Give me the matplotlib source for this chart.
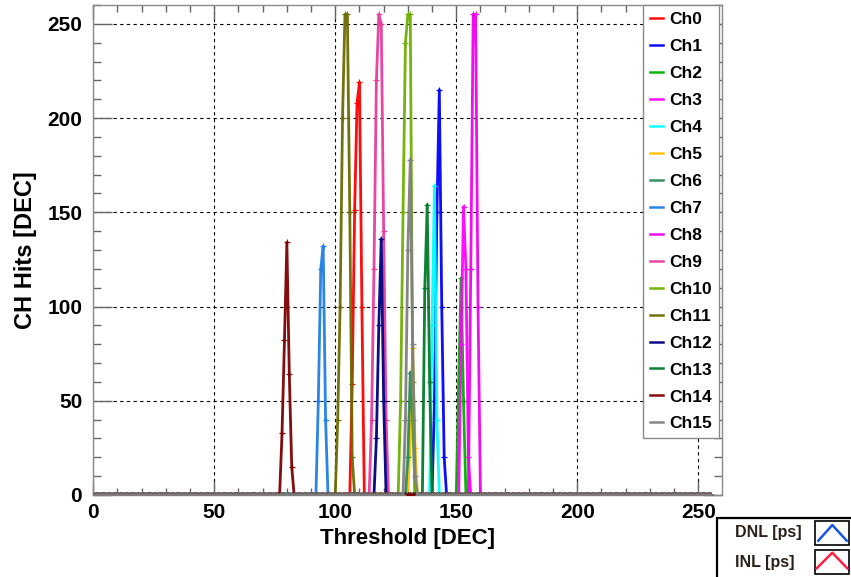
import matplotlib
matplotlib.use('Agg')
import matplotlib.pyplot as plt
import numpy as np
from matplotlib.lines import Line2D
from matplotlib.patches import Rectangle
from matplotlib.ticker import MultipleLocator

plt.rcParams['font.family'] = ['Liberation Sans', 'DejaVu Sans']
plt.rcParams['font.weight'] = 'bold'

# threshold scan: 0..255, hits per channel are zero outside the peak
thresholds = np.arange(256)

channel_names = ['Ch%d' % i for i in range(16)]

# first threshold of each peak and the hit counts from there on
peak_start = [106, 140, 150, 151, 139, 130, 129, 92,
              155, 114, 126, 100, 116, 136, 77, 128]
peak_hits = [
    [0, 59, 151, 208, 219, 100, 0],              # Ch0
    [0, 50, 150, 215, 100, 20, 0],               # Ch1
    [0, 60, 115, 50, 0],                         # Ch2
    [0, 80, 153, 120, 20, 0],                    # Ch3
    [0, 90, 164, 40, 0],                         # Ch4
    [0, 30, 78, 25, 0],                          # Ch5
    [0, 20, 65, 40, 0],                          # Ch6
    [0, 50, 120, 132, 40, 0],                    # Ch7
    [0, 120, 255, 255, 100, 0],                  # Ch8
    [0, 40, 120, 220, 255, 250, 140, 40, 0],     # Ch9
    [0, 50, 150, 240, 255, 255, 60, 0],          # Ch10
    [0, 40, 100, 200, 255, 255, 150, 20, 0],     # Ch11
    [0, 30, 90, 136, 50, 0],                     # Ch12
    [0, 110, 154, 60, 0],                        # Ch13
    [0, 33, 82, 134, 64, 15, 0],                 # Ch14
    [0, 40, 130, 178, 80, 10, 0],                # Ch15
]

colours = ['#ff0000', '#0000ff', '#00b000', '#ff00ff', '#00ffff', '#ffc000',
           '#2e8b57', '#1e7fe6', '#f000f0', '#e83c9e', '#6cb000', '#6b6b00',
           '#000080', '#007a2a', '#7f0000', '#808080']

fig = plt.figure(figsize=(8.51, 5.77), dpi=100)
ax = fig.add_axes([93.3 / 851, 82 / 577, 628.4 / 851, 490 / 577])

for name, start, vals, c in zip(channel_names, peak_start, peak_hits, colours):
    hits = np.zeros(len(thresholds))
    hits[start:start + len(vals)] = vals
    ax.plot(thresholds, hits, color=c, lw=2.0, marker='+', ms=5, mew=0.9,
            alpha=0.95, label=name, zorder=3)

ax.set_xlim(0, 259.7)
ax.set_ylim(0, 260)
ax.xaxis.set_major_locator(MultipleLocator(50))
ax.xaxis.set_minor_locator(MultipleLocator(10))
ax.yaxis.set_major_locator(MultipleLocator(50))
ax.yaxis.set_minor_locator(MultipleLocator(10))
ax.grid(True, which='major', color='black', ls=(0, (3, 3)), lw=0.8, zorder=1)
ax.set_axisbelow(True)

for sp in ax.spines.values():
    sp.set_color('#8a8a8a')
    sp.set_linewidth(1.0)

ax.tick_params(axis='both', which='both', direction='in', top=True, right=True,
               colors='#666666', labelcolor='black', labelsize=15, width=1)
ax.tick_params(axis='x', which='major', length=10, pad=6)
ax.tick_params(axis='x', which='minor', length=5)
ax.tick_params(axis='y', which='major', length=14, pad=8)
ax.tick_params(axis='y', which='minor', length=6)
for lab in ax.get_xticklabels() + ax.get_yticklabels():
    lab.set_fontweight('bold')

ax.set_xlabel('Threshold [DEC]', fontsize=16, fontweight='bold', labelpad=4)
ax.set_ylabel('CH Hits [DEC]', fontsize=17, fontweight='bold', labelpad=7)

leg = ax.legend(loc='upper right', bbox_to_anchor=(0.996, 1.0), ncol=1,
                fancybox=False, framealpha=1, edgecolor='#8a8a8a',
                prop={'size': 12.5, 'weight': 'bold'}, handlelength=0.8,
                handletextpad=0.35, labelspacing=0.68, borderpad=0.4,
                borderaxespad=0.0, markerscale=0)
leg.get_frame().set_linewidth(1.0)
for h in leg.get_lines():
    h.set_marker('')
    h.set_linewidth(1.8)

# DNL / INL key box in the lower right corner
W, H = 851.0, 577.0
box = Rectangle((716.7 / W, -0.01), 0.2, (577 - 518.3) / H + 0.01,
                transform=fig.transFigure, fill=False, ec='black', lw=1.6)
fig.patches.append(box)
for y0 in (521, 550):
    sq = Rectangle((815 / W, (577 - y0 - 24) / H), 34 / W, 24 / H,
                   transform=fig.transFigure, fill=False, ec='black', lw=1.2)
    fig.patches.append(sq)
fig.lines.append(Line2D([818.3 / W, 832.3 / W, 846.7 / W],
                        [(577 - 540.7) / H, (577 - 525) / H, (577 - 540.7) / H],
                        transform=fig.transFigure, color='#1a55e8', lw=1.8))
fig.lines.append(Line2D([816.7 / W, 832.3 / W, 847.3 / W],
                        [(577 - 568.3) / H, (577 - 552.7) / H, (577 - 568.3) / H],
                        transform=fig.transFigure, color='#ff2040', lw=1.8))
fig.text(735 / W, (577 - 533) / H, 'DNL [ps]', fontsize=11.5, fontweight='bold',
         color='#2a2018', va='center', ha='left')
fig.text(735 / W, (577 - 562) / H, 'INL [ps]', fontsize=11.5, fontweight='bold',
         color='#2a2018', va='center', ha='left')

plt.savefig('out.png', dpi=100)
